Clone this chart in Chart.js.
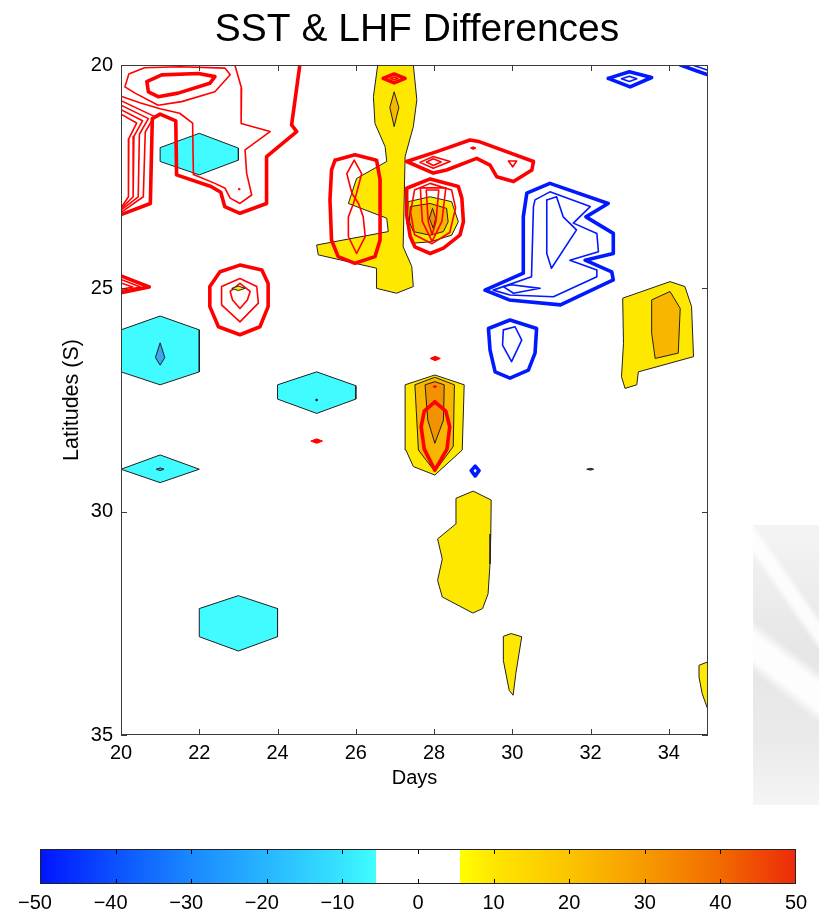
<!DOCTYPE html>
<html><head><meta charset="utf-8">
<script src="https://cdn.jsdelivr.net/npm/chart.js@4.4.1/dist/chart.umd.min.js"></script>
<style>
html,body{margin:0;padding:0;background:#fff;}
#wrap{position:relative;width:819px;height:914px;overflow:hidden;background:#fff;}
#main{position:absolute;left:0;top:0;}
#cbar{position:absolute;left:0;top:830px;}
#mark{position:absolute;left:753px;top:525px;width:66px;height:280px;
  background:
    linear-gradient(38deg, rgba(255,255,255,0) 0 40%, rgba(255,255,255,0.92) 44% 52%, rgba(255,255,255,0) 56% 100%),
    linear-gradient(55deg, rgba(255,255,255,0) 0 66%, rgba(255,255,255,0.85) 69% 73%, rgba(255,255,255,0) 76% 100%),
    linear-gradient(to bottom, #f4f4f4, #e6e6e6 45%, #ebebeb 80%, #f5f5f5);}
</style></head><body>
<div id="wrap">
<div id="mark"></div>
<canvas id="main" width="819" height="800"></canvas>
<canvas id="cbar" width="819" height="84"></canvas>
</div>
<script>
// ---------- tick labels ----------
const dayTicks = [20,22,24,26,28,30,32,34];
const latTicks = [20,25,30,35];
const barTicks = [-50,-40,-30,-20,-10,0,10,20,30,40,50];

// ---------- filled contour regions [day, latitude] ----------
const yellowColumn27 = [[26.56,20.0],[27.47,20.0],[27.56,20.78],[27.47,21.38],[27.26,22.05],[27.21,24.07],[27.43,24.51],[27.47,24.96],[27.04,25.11],[26.53,25.0],[26.53,24.55],[25.04,24.25],[25.0,24.03],[26.83,23.73],[26.79,23.43],[25.81,23.10],[26.02,22.54],[26.79,22.16],[26.75,21.83],[26.49,21.31],[26.45,20.71]];
const amberColumn27 = [[26.98,20.6],[27.1,20.95],[26.98,21.38],[26.87,20.95]];
const yellowBlob28 = [[27.34,23.06],[27.9,22.95],[28.45,23.06],[28.62,23.51],[28.45,23.81],[27.9,23.96],[27.43,23.99],[27.3,23.51]];
const amberBlob28 = [[27.39,23.17],[27.9,23.1],[28.32,23.21],[28.36,23.51],[28.24,23.73],[27.9,23.81],[27.47,23.73],[27.37,23.51]];
const orangeBlob28 = [[27.96,23.21],[28.04,23.43],[27.98,23.66],[27.88,23.43]];
const yellowStack28 = [[27.26,27.16],[28.02,26.94],[28.77,27.16],[28.72,28.62],[28.02,29.18],[27.47,28.99],[27.28,28.62]];
const amberStack28 = [[27.51,27.16],[28.02,26.99],[28.52,27.16],[28.49,28.54],[28.02,29.1],[27.6,28.62]];
const orangeStack28 = [[27.77,27.16],[28.02,27.09],[28.26,27.16],[28.24,27.95],[28.02,28.47],[27.84,27.95]];
const yellowRight34 = [[32.82,25.22],[34.03,24.85],[34.41,24.96],[34.58,25.41],[34.63,26.53],[33.22,26.87],[33.18,27.16],[32.88,27.24],[32.79,26.98],[32.84,26.23]];
const amberRight34 = [[33.56,25.26],[34.03,25.07],[34.29,25.45],[34.24,26.45],[33.65,26.57],[33.56,26.0]];
const yellowColumn29 = [[28.56,29.7],[29.0,29.54],[29.46,29.74],[29.45,30.5],[29.43,31.17],[29.38,31.84],[29.24,32.17],[28.99,32.27],[28.21,31.91],[28.09,31.54],[28.21,31.06],[28.09,30.61],[28.55,30.28]];
const yellowColumn30 = [[29.77,32.79],[29.97,32.73],[30.24,32.8],[30.09,33.62],[30.02,34.11],[29.92,34.0],[29.77,33.33]];
const yellowEdge35 = [[34.77,33.44],[35.0,33.36],[35.0,34.44],[34.85,34.07],[34.77,33.7]];
const yellowDot23 = [[22.83,25.0],[23.0,24.95],[23.17,25.0],[23.0,25.05]];
const cyanHex22 = [[21,21.85],[22,21.53],[23,21.86],[23,22.13],[22,22.46],[21,22.16]];
const cyanHex21 = [[20,25.93],[21,25.62],[22,25.93],[22,26.87],[21,27.16],[20,26.87]];
const blueCore21 = [[21,26.22],[21.12,26.55],[21,26.72],[20.88,26.55]];
const cyanHex25 = [[24,27.16],[25,26.87],[26,27.18],[26,27.48],[25,27.8],[24,27.48]];
const blackDot25 = [[24.97,27.5],[25,27.48],[25.03,27.5],[25,27.52]];
const cyanDiamond21 = [[20,29.05],[21,28.73],[22,29.05],[21,29.35]];
const blueCore21b = [[20.9,29.05],[21,29.02],[21.1,29.05],[21,29.08]];
const cyanHex23 = [[22,32.17],[23,31.88],[24,32.17],[24,32.8],[23,33.12],[22,32.8]];
const oliveDot32 = [[31.9,29.05],[32.0,29.03],[32.08,29.05],[32.0,29.07]];

// ---------- red contour lines (positive) ----------
const redTopOval = [[20.66,20.37],[21.04,20.22],[21.98,20.19],[22.4,20.26],[22.27,20.41],[21.46,20.63],[20.95,20.71],[20.7,20.6]];
const redTopOuter = [[20.1,20.49],[20.36,20.63],[20.95,20.9],[21.55,20.82],[22.4,20.6],[22.79,20.22],[22.66,20.07],[21.5,20.04],[20.6,20.06],[20.2,20.2]];
const redOuterNW = [[20.0,23.35],[20.75,23.1],[20.8,21.2],[21.0,21.1],[21.4,21.25],[21.42,22.46],[22.3,22.72],[22.55,22.85],[22.65,23.17],[23.04,23.32],[23.72,23.1],[23.72,22.05],[24.49,21.49],[24.36,21.34],[24.57,20.0]];
const redInnerNW = [[22.91,20.0],[23.08,20.52],[23.07,21.31],[23.81,21.49],[23.17,21.9],[23.21,22.42],[23.34,22.91],[23.04,23.1],[22.79,22.98],[22.66,22.76],[22.4,22.65],[21.85,22.45],[21.83,21.3],[21.5,21.08],[21.0,20.98],[20.5,20.85],[20.0,20.7]];
const redStrip1 = [[20.0,20.8],[20.85,21.15],[20.62,21.5],[20.57,22.95],[20.0,23.3]];
const redStrip2 = [[20.0,20.9],[20.7,21.2],[20.47,21.55],[20.44,22.95],[20.0,23.25]];
const redStrip3 = [[20.0,21.0],[20.55,21.25],[20.33,21.6],[20.31,22.95],[20.0,23.22]];
const redStrip4 = [[20.0,21.1],[20.4,21.3],[20.2,21.65],[20.19,22.95],[20.0,23.2]];
const redDot23 = [[22.99,22.78],[23.02,22.76],[23.05,22.78],[23.02,22.8]];
const redEdge25a = [[20.0,24.72],[20.72,24.97],[20.0,25.1]];
const redEdge25b = [[20.0,24.8],[20.5,24.97],[20.0,25.05]];
const redEdge25c = [[20.0,24.88],[20.3,24.97],[20.0,25.02]];
const redRing23a = [[23.04,24.48],[23.6,24.59],[23.76,24.89],[23.76,25.41],[23.55,25.86],[23.04,26.04],[22.49,25.86],[22.27,25.41],[22.27,24.96],[22.53,24.63]];
const redRing23b = [[23.04,24.78],[23.47,24.96],[23.51,25.33],[23.04,25.75],[22.57,25.37],[22.57,24.96]];
const redRing23c = [[23.04,24.89],[23.3,25.07],[23.23,25.26],[23.04,25.45],[22.85,25.26],[22.79,25.07]];
const redLoop26a = [[25.47,22.13],[25.98,22.01],[26.53,22.13],[26.62,22.57],[26.62,23.92],[26.49,24.29],[25.98,24.44],[25.55,24.29],[25.38,23.92],[25.34,23.02],[25.38,22.35]];
const redLoop26b = [[25.96,22.13],[26.15,22.43],[26.02,22.87],[25.94,23.1],[25.81,23.4],[25.81,23.84],[26.02,24.22],[26.24,23.84],[26.19,23.4],[26.07,23.1],[25.9,22.87],[25.77,22.43]];
const redOval27a = [[26.7,20.3],[26.98,20.2],[27.26,20.3],[26.98,20.4]];
const redOval27b = [[26.88,20.3],[26.98,20.27],[27.08,20.3],[26.98,20.33]];
const redBand29a = [[27.3,22.16],[28.07,21.94],[28.92,21.68],[29.17,21.72],[30.54,22.16],[30.5,22.35],[30.03,22.61],[29.6,22.5],[29.43,22.24],[29.09,22.09],[28.32,22.35],[27.98,22.42]];
const redBand29b = [[27.64,22.18],[27.98,22.05],[28.41,22.16],[27.98,22.31]];
const redBand29c = [[27.81,22.17],[27.98,22.1],[28.18,22.17],[27.98,22.25]];
const redBand29dot = [[28.93,21.86],[29.0,21.83],[29.07,21.86],[29.0,21.89]];
const redBand29tri = [[29.9,22.15],[30.11,22.15],[30.01,22.28]];
const redBlob28a = [[27.3,22.76],[27.9,22.55],[28.62,22.72],[28.71,22.98],[28.75,23.51],[28.66,23.81],[28.24,24.1],[27.9,24.22],[27.51,24.07],[27.39,23.84],[27.3,23.36]];
const redBlob28b = [[27.5,22.8],[27.9,22.65],[28.45,22.8],[28.55,23.2],[28.4,23.75],[27.95,24.0],[27.5,23.8],[27.4,23.3]];
const redBlob28c = [[27.65,22.75],[28.3,22.75],[28.2,23.5],[27.95,23.95],[27.7,23.5]];
const redBlob28d = [[27.8,22.8],[28.12,22.8],[28.05,23.5],[27.95,23.8],[27.85,23.5]];
const redStack28 = [[28.02,27.54],[28.3,27.75],[28.4,28.1],[28.33,28.6],[28.02,29.07],[27.75,28.6],[27.67,28.1],[27.75,27.75]];
const redDot28 = [[27.9,26.57],[28.03,26.52],[28.16,26.57],[28.03,26.62]];
const redDot25 = [[24.85,28.42],[25,28.37],[25.15,28.42],[25,28.47]];
const redDot28b = [[27.97,27.2],[28.02,27.18],[28.07,27.2],[28.02,27.22]];

// ---------- blue contour lines (negative) ----------
const blueB31a = [[30.37,22.87],[30.96,22.65],[32.45,23.1],[31.88,23.4],[32.58,23.77],[32.58,24.22],[31.86,24.37],[32.54,24.63],[32.58,24.81],[31.23,25.37],[29.92,25.26],[29.3,25.04],[30.28,24.66],[30.28,23.4]];
const blueB31b = [[30.58,23.02],[30.96,22.84],[31.99,23.17],[31.56,23.54],[32.16,23.77],[32.2,24.18],[31.47,24.37],[32.16,24.59],[32.16,24.74],[31.05,25.19],[29.94,25.15],[29.51,25.04],[30.49,24.74],[30.54,23.17]];
const blueB31c = [[30.88,23.02],[31.13,22.95],[31.3,23.4],[31.64,23.69],[31.0,24.55],[30.88,24.22]];
const blueB31d = [[29.77,24.96],[29.98,24.92],[30.71,25.0],[30.03,25.11]];
const blueRing30a = [[29.39,25.9],[29.94,25.71],[30.62,25.9],[30.58,26.45],[30.41,26.83],[29.94,27.01],[29.56,26.87],[29.43,26.38]];
const blueRing30b = [[29.77,25.93],[30.07,25.86],[30.24,26.16],[29.98,26.64],[29.75,26.27]];
const blueTop33a = [[32.45,20.3],[32.99,20.15],[33.56,20.28],[33.01,20.49]];
const blueTop33b = [[32.79,20.31],[32.99,20.25],[33.18,20.31],[32.99,20.37]];
const blueCorner35a = [[34.3,20.0],[34.7,20.13],[35.0,20.22]];
const blueCorner35b = [[34.6,20.0],[35.0,20.12]];
const blueRing29 = [[28.95,29.08],[29.05,28.98],[29.15,29.08],[29.05,29.2]];

// ---------- styles ----------
const C_YEL = '#ffe800', C_AMB = '#f8b600', C_ORA = '#f39200', C_CYAN = '#40fbff', C_CORE = '#3aa6f0';
const C_RED = '#ff0000', C_BLUE = '#0019ff';
const W_THICK = 3.6, W_THIN = 1.6;
const FONT = "'Liberation Sans', Helvetica, Arial, sans-serif";

function pts(arr, closed){
  const d = arr.map(p => ({x:p[0], y:p[1]}));
  if (closed) d.push({x:arr[0][0], y:arr[0][1]});
  return d;
}
function area(arr, color, edge){
  return {data:pts(arr,true), fill:'shape', backgroundColor:color, borderColor:edge||'#202020', borderWidth:1,
          pointRadius:0, tension:0, spanGaps:true};
}
function line(arr, color, w, closed){
  return {data:pts(arr,closed), fill:false, borderColor:color, borderWidth:w, pointRadius:0,
          tension:0, borderJoinStyle:'round', borderCapStyle:'round', spanGaps:true};
}

const layers = [
  area(yellowColumn27, C_YEL), area(amberColumn27, C_AMB),
  area(yellowBlob28, C_YEL), area(amberBlob28, C_AMB), area(orangeBlob28, C_ORA),
  area(yellowStack28, C_YEL), area(amberStack28, C_AMB), area(orangeStack28, C_ORA),
  area(yellowRight34, C_YEL), area(amberRight34, C_AMB),
  area(yellowColumn29, C_YEL), area(yellowColumn30, C_YEL), area(yellowEdge35, C_YEL),
  area(cyanHex22, C_CYAN), area(cyanHex21, C_CYAN), area(blueCore21, C_CORE),
  area(cyanHex25, C_CYAN), area(blackDot25, '#000'), area(cyanDiamond21, C_CYAN), area(blueCore21b, C_CORE),
  area(cyanHex23, C_CYAN), area(oliveDot32, '#555522'),
  line(redTopOuter, C_RED, W_THIN, true), line(redTopOval, C_RED, W_THICK, true),
  line(redOuterNW, C_RED, W_THICK, false), line(redInnerNW, C_RED, W_THIN, false),
  line(redStrip1, C_RED, W_THIN, false), line(redStrip2, C_RED, W_THIN, false),
  line(redStrip3, C_RED, W_THIN, false), line(redStrip4, C_RED, W_THIN, false),
  area(redDot23, C_RED, C_RED),
  line(redEdge25a, C_RED, W_THICK, false), line(redEdge25b, C_RED, W_THIN, false), line(redEdge25c, C_RED, W_THIN, false),
  line(redRing23a, C_RED, W_THICK, true), line(redRing23b, C_RED, W_THIN, true), line(redRing23c, C_RED, W_THIN, true),
  area(yellowDot23, C_YEL),
  line(redLoop26a, C_RED, W_THICK, true), line(redLoop26b, C_RED, W_THIN, true),
  line(redOval27a, C_RED, W_THICK, true), line(redOval27b, C_RED, W_THIN, true),
  line(redBand29a, C_RED, W_THICK, true), line(redBand29b, C_RED, W_THIN, true), line(redBand29c, C_RED, W_THIN, true),
  area(redBand29dot, C_RED, C_RED), line(redBand29tri, C_RED, W_THIN, true),
  line(redBlob28a, C_RED, W_THICK, true), line(redBlob28b, C_RED, W_THIN, true),
  line(redBlob28c, C_RED, W_THIN, true), line(redBlob28d, C_RED, W_THIN, true),
  line(redStack28, C_RED, W_THICK, true),
  area(redDot28, C_RED, C_RED), area(redDot25, C_RED, C_RED), area(redDot28b, C_RED, C_RED),
  line(blueB31a, C_BLUE, W_THICK, true), line(blueB31b, C_BLUE, W_THIN, true),
  line(blueB31c, C_BLUE, W_THIN, true), line(blueB31d, C_BLUE, W_THIN, true),
  line(blueRing30a, C_BLUE, W_THICK, true), line(blueRing30b, C_BLUE, W_THIN, true),
  line(blueTop33a, C_BLUE, W_THICK, true), line(blueTop33b, C_BLUE, W_THIN, true),
  line(blueCorner35a, C_BLUE, W_THICK, false), line(blueCorner35b, C_BLUE, W_THIN, false),
  line(blueRing29, C_BLUE, W_THICK, true)
];
layers.forEach((d, i) => { d.order = layers.length - i; });

// inward ticks on all four sides + box
const boxTicks = {
  id:'boxTicks',
  afterDatasetsDraw(chart){
    const {ctx, chartArea:{left,right,top,bottom}, scales:{x,y}} = chart;
    ctx.save();
    ctx.strokeStyle = '#3a3a3a'; ctx.lineWidth = 1;
    ctx.strokeRect(left+0.5, top+0.5, right-left-1, bottom-top-1);
    ctx.beginPath();
    const L = 6;
    dayTicks.forEach(v => { const p = Math.round(x.getPixelForValue(v))+0.5;
      ctx.moveTo(p, bottom); ctx.lineTo(p, bottom-L); ctx.moveTo(p, top); ctx.lineTo(p, top+L); });
    latTicks.forEach(v => { const p = Math.round(y.getPixelForValue(v))+0.5;
      ctx.moveTo(left, p); ctx.lineTo(left+L, p); ctx.moveTo(right, p); ctx.lineTo(right-L, p); });
    ctx.stroke();
    ctx.restore();
  }
};

new Chart(document.getElementById('main'), {
  type:'line',
  data:{datasets:layers},
  options:{
    responsive:false, animation:false, events:[],
    layout:{padding:{left:15, right:0, top:0, bottom:0}},
    plugins:{
      legend:{display:false}, tooltip:{enabled:false},
      title:{display:true, text:'SST & LHF Differences', color:'#000',
             font:{family:FONT, size:39, weight:'normal'}, padding:{top:7, bottom:11.2}}
    },
    scales:{
      x:{type:'linear', min:20, max:35, position:'bottom',
         afterBuildTicks:s => { s.ticks = dayTicks.map(v => ({value:v})); },
         afterFit:s => { s.height = 65; },
         grid:{display:false, drawTicks:false}, border:{display:false},
         ticks:{color:'#000', padding:6.4, maxRotation:0, autoSkip:false, font:{family:FONT, size:20}},
         title:{display:true, text:'Days', color:'#000', font:{family:FONT, size:20}, padding:{top:0, bottom:10}}},
      y:{type:'linear', min:20, max:35, reverse:true, position:'left',
         afterBuildTicks:s => { s.ticks = latTicks.map(v => ({value:v})); },
         afterFit:s => { s.width = 106; },
         grid:{display:false, drawTicks:false}, border:{display:false},
         ticks:{color:'#000', padding:8, autoSkip:false, font:{family:FONT, size:20}},
         title:{display:true, text:'Latitudes (S)', color:'#000', font:{family:FONT, size:21.5}, padding:{top:44, bottom:0}}},
      yRight:{type:'linear', min:20, max:35, reverse:true, position:'right',
         afterFit:s => { s.width = 111; },
         grid:{display:false, drawTicks:false}, border:{display:false},
         ticks:{display:false}}
    }
  },
  plugins:[boxTicks]
});

// ---------- colour bar ----------
const colorBar = {
  id:'colorBar',
  beforeDatasetsDraw(chart){
    const {ctx, chartArea:{left,right,top,bottom}, scales:{x}} = chart;
    const f = v => (x.getPixelForValue(v) - left) / (right - left);
    const g = ctx.createLinearGradient(left, 0, right, 0);
    const stops = [[-50,'#0014ff'],[-40,'#0c52ff'],[-30,'#1a88ff'],[-20,'#28b6ff'],[-10,'#36e4ff'],[-5.5,'#40ffff'],
                   [-5.5,'#ffffff'],[5.5,'#ffffff'],[5.5,'#ffff00'],[10,'#ffe600'],[20,'#fbc400'],[30,'#f79a00'],[40,'#f26a00'],[50,'#ec2a0a']];
    stops.forEach(([v,c]) => g.addColorStop(Math.min(1,Math.max(0,f(v))), c));
    ctx.save();
    ctx.fillStyle = g;
    ctx.fillRect(left, top, right-left, bottom-top);
    ctx.strokeStyle = '#000'; ctx.lineWidth = 1;
    ctx.beginPath();
    barTicks.forEach(v => { const p = Math.round(x.getPixelForValue(v))+0.5;
      if (v === -50 || v === 50) return;
      ctx.moveTo(p, top); ctx.lineTo(p, top+5); ctx.moveTo(p, bottom); ctx.lineTo(p, bottom-5); });
    ctx.stroke();
    ctx.strokeStyle = '#222';
    ctx.strokeRect(left+0.5, top+0.5, right-left-1, bottom-top-1);
    ctx.restore();
  }
};

new Chart(document.getElementById('cbar'), {
  type:'line',
  data:{datasets:[{data:[]}]},
  options:{
    responsive:false, animation:false, events:[],
    layout:{padding:{left:40, right:23, top:19, bottom:0}},
    plugins:{legend:{display:false}, tooltip:{enabled:false}},
    scales:{
      x:{type:'linear', min:-50, max:50,
         afterBuildTicks:s => { s.ticks = barTicks.map(v => ({value:v})); },
         afterFit:s => { s.height = 30; },
         grid:{display:false, drawTicks:false}, border:{display:false},
         ticks:{color:'#000', padding:7, maxRotation:0, autoSkip:false, font:{family:FONT, size:20},
                callback:v => v < 0 ? '\u2212' + Math.abs(v) + '\u2002' : String(v)}},
      y:{display:false, min:0, max:1}
    }
  },
  plugins:[colorBar]
});
</script>
</body></html>
